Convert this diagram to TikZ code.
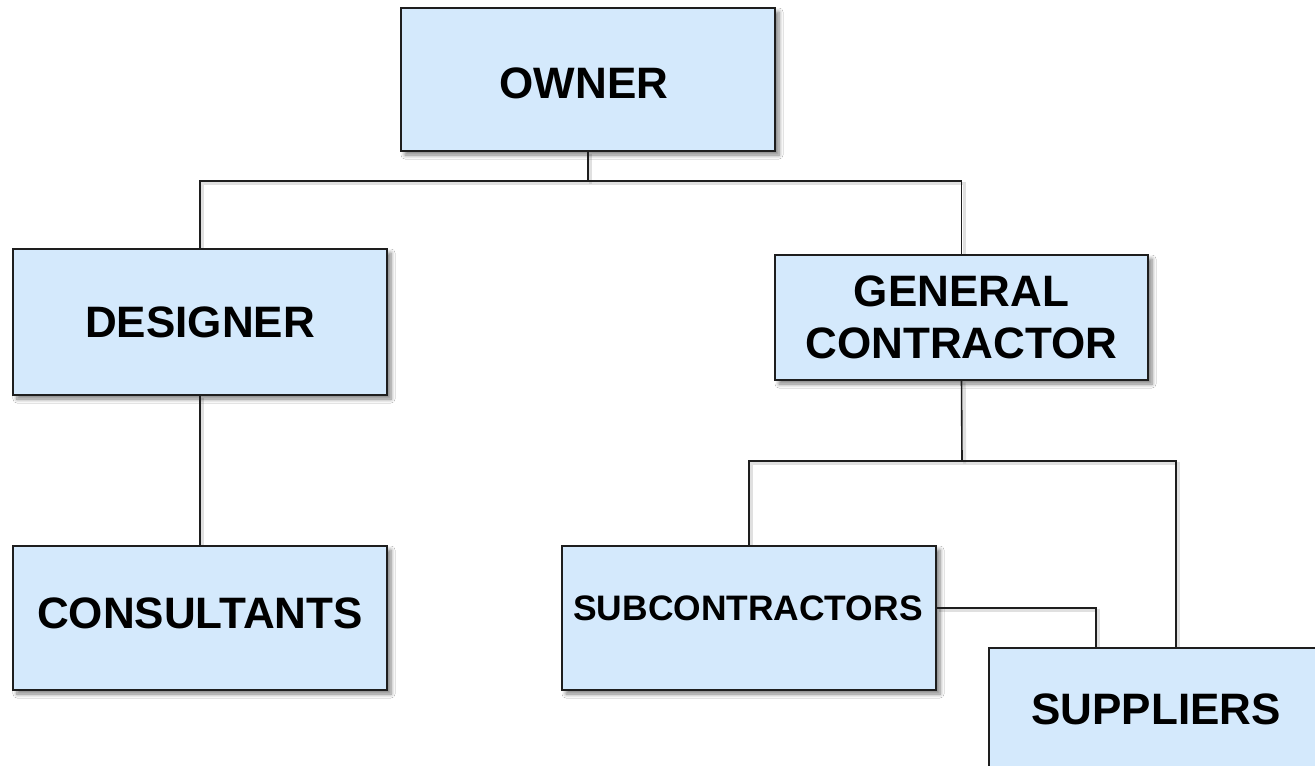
\documentclass[tikz,border=0pt]{standalone}
\usepackage{fontspec}
\setmainfont{Liberation Sans}
\usetikzlibrary{shadows.blur}
\definecolor{boxfill}{RGB}{212,233,252}
\definecolor{edge}{RGB}{30,30,30}
\begin{document}
\begin{tikzpicture}[x=0.5pt,y=-0.5pt,
  box/.style={draw=edge, line width=0.8pt, fill=boxfill, rectangle,
    inner sep=0pt, align=center,
    font=\fontsize{22}{26}\selectfont\bfseries,
    blur shadow={shadow xshift=2pt, shadow yshift=-2pt, shadow blur radius=2pt, shadow opacity=50, shadow blur steps=6}},
  conn/.style={draw=edge, line width=0.8pt},
  connshade/.style={draw=black!30, line width=1.6pt, opacity=0.4, transform canvas={shift={(1.3pt,-1.3pt)}}},
  lbl/.style={font=\fontsize{22}{26}\selectfont\bfseries}
]
\useasboundingbox (0,0) rectangle (1315,765);
\clip (0,0) rectangle (1315,765);
\fill[white] (0,0) rectangle (1315,765);

\coordinate (j1) at (588,181);
\coordinate (j2) at (962,461);

% connector shadows
\begin{scope}[every path/.style={connshade}]
\path (588,151) -- (j1);
\path (200,249) |- (j1) -| (961.5,255);
\path (200,395) -- (200,546);
\path (961.5,380) -- (j2);
\path (749,546) |- (j2) -| (1176,648);
\path (936,608) -| (1096,648);
\end{scope}

\node[box, minimum width=187pt, minimum height=71.5pt] (owner) at (588,79.5) {};
\node[lbl] (ownert) at (584,83) {OWNER};
\node[box, minimum width=187pt, minimum height=73pt] (designer) at (200,322) {DESIGNER};
\node[box, minimum width=186.5pt, minimum height=62.5pt] (gc) at (961.5,317.5) {GENERAL\\CONTRACTOR};
\node[box, minimum width=187pt, minimum height=72pt] (consultants) at (200,618) {};
\node[lbl] (consultantst) at (200,613) {CONSULTANTS};
\node[box, minimum width=187pt, minimum height=72pt] (sub) at (749,618) {};
\node[font=\fontsize{17.7}{20}\selectfont\bfseries] (subt) at (748,608) {SUBCONTRACTORS};
\node[box, minimum width=187pt, minimum height=72pt] (sup) at (1176,720) {};
\node[lbl] (supt) at (1156,709) {SUPPLIERS};

\draw[conn] (owner.south) -- (j1);
\draw[conn] (designer.north) |- (j1) -| (gc.north);
\draw[conn] (designer.south) -- (consultants.north);
\draw[conn] (gc.south) -- (j2);
\draw[conn] (sub.north) |- (j2) -| (sup.north);
\draw[conn] ([yshift=5pt]sub.east) -| ([xshift=-40pt]sup.north);
\end{tikzpicture}
\end{document}
